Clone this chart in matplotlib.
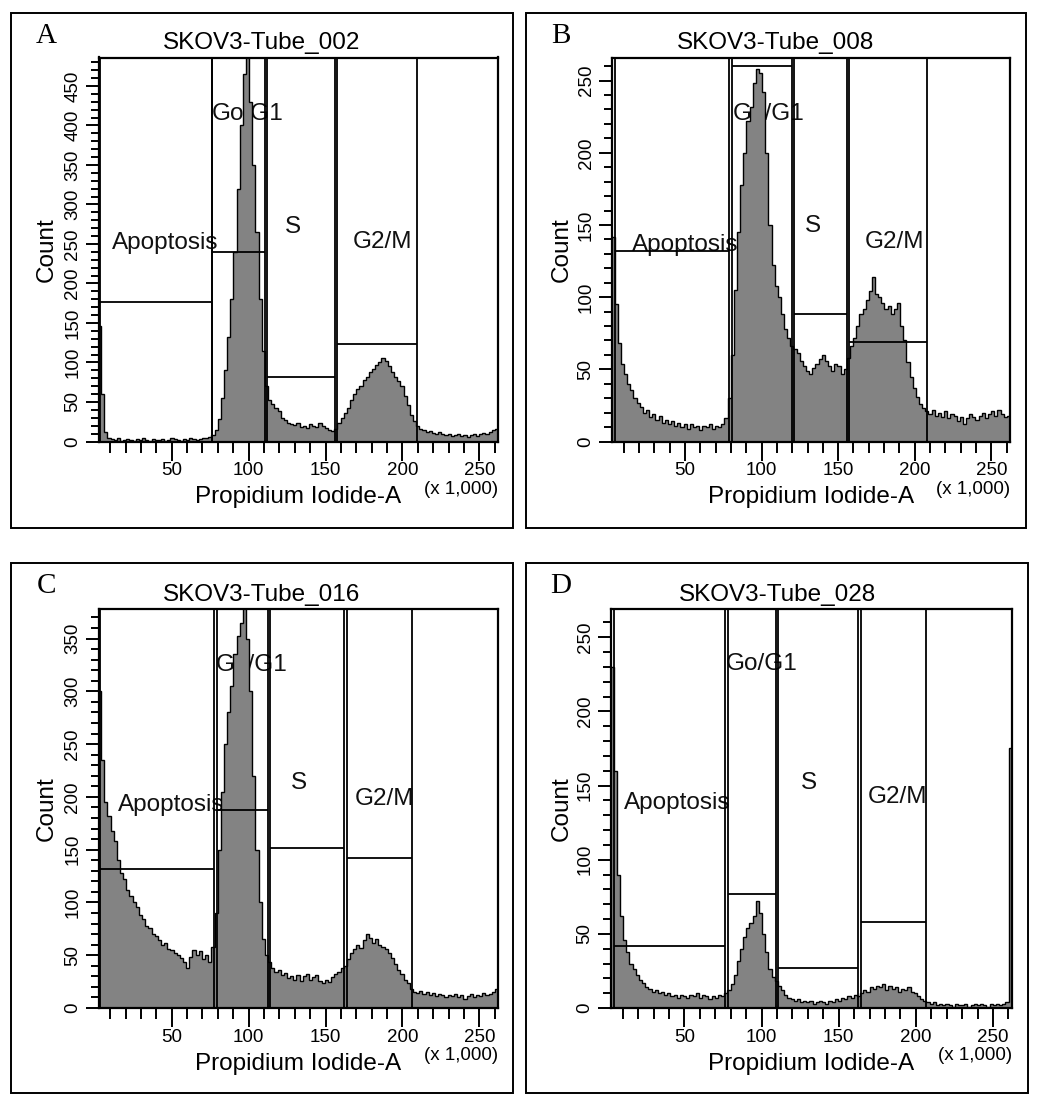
import numpy as np
import matplotlib
matplotlib.use("Agg")
import matplotlib.pyplot as plt
from matplotlib.patches import Rectangle
from matplotlib.ticker import FixedLocator, MultipleLocator

plt.rcParams['font.family'] = ['Liberation Sans', 'DejaVu Sans']

W, H = 1046, 1106
BIN_WIDTH = 2048
X_MAX = 262144

# ---------------- data ----------------
panel_letters = ["A", "B", "C", "D"]
tube_names = ["SKOV3-Tube_002", "SKOV3-Tube_008", "SKOV3-Tube_016", "SKOV3-Tube_028"]
gate_names = ["Apoptosis", "Go/G1", "S", "G2/M"]
y_max = [486, 266, 378, 269]
x_tick_values = [50, 100, 150, 200, 250]          # x 1,000
x_tick_labels = ["50", "100", "150", "200", "250"]

counts_A = [160, 146, 60, 12, 4, 3, 2, 4, 1, 2,
            3, 2, 1, 3, 2, 4, 2, 1, 3, 2,
            2, 3, 1, 2, 4, 3, 2, 1, 3, 2,
            4, 3, 2, 3, 5, 4, 6, 8, 15, 28,
            55, 90, 132, 180, 240, 320, 400, 465, 492, 430,
            350, 265, 180, 115, 70, 52, 47, 42, 38, 30,
            27, 24, 22, 21, 23, 18, 20, 17, 22, 19,
            18, 24, 20, 17, 15, 13, 16, 24, 30, 36,
            43, 52, 60, 66, 70, 78, 82, 88, 92, 97,
            100, 106, 102, 95, 88, 82, 76, 70, 58, 46,
            34, 26, 19, 16, 14, 12, 13, 11, 10, 12,
            9, 8, 10, 7, 8, 9, 7, 8, 6, 8,
            9, 7, 10, 11, 9, 12, 14, 16]

counts_B = [150, 142, 95, 68, 54, 47, 40, 36, 30, 27,
            24, 20, 22, 17, 19, 15, 18, 13, 15, 12,
            14, 11, 13, 10, 12, 9, 12, 10, 11, 8,
            11, 10, 12, 9, 11, 10, 12, 16, 30, 60,
            105, 145, 178, 200, 222, 232, 248, 258, 255, 242,
            200, 150, 122, 108, 100, 88, 78, 72, 66, 64,
            61, 56, 52, 49, 47, 51, 54, 57, 60, 56,
            52, 49, 54, 52, 47, 50, 58, 66, 72, 80,
            88, 92, 98, 104, 114, 102, 100, 96, 92, 94,
            88, 92, 96, 80, 70, 55, 45, 37, 31, 26,
            23, 21, 19, 22, 18, 20, 17, 21, 16, 19,
            18, 14, 17, 12, 16, 19, 17, 15, 18, 20,
            16, 19, 21, 18, 22, 19, 17, 18]

counts_C = [380, 300, 235, 195, 182, 168, 158, 140, 128, 122,
            112, 106, 100, 96, 88, 84, 78, 76, 70, 68,
            64, 60, 62, 56, 55, 52, 50, 47, 44, 38,
            48, 55, 50, 54, 46, 50, 44, 58, 90, 150,
            205, 250, 280, 305, 335, 352, 365, 382, 350, 300,
            220, 150, 100, 65, 50, 44, 38, 34, 36, 31,
            33, 28, 30, 27, 31, 26, 30, 32, 27, 29,
            31, 26, 24, 27, 25, 29, 32, 34, 38, 40,
            46, 52, 56, 60, 57, 64, 70, 66, 62, 65,
            60, 58, 56, 52, 47, 42, 36, 32, 27, 24,
            18, 15, 14, 16, 13, 15, 12, 14, 11, 13,
            12, 10, 12, 11, 13, 10, 12, 9, 11, 13,
            10, 12, 11, 14, 12, 13, 15, 18]

counts_D = [240, 230, 160, 90, 62, 46, 38, 30, 26, 22,
            19, 17, 14, 13, 11, 12, 10, 11, 9, 10,
            8, 9, 7, 9, 8, 7, 9, 8, 10, 7,
            9, 8, 6, 8, 7, 9, 8, 10, 12, 16,
            22, 32, 40, 48, 54, 57, 62, 72, 64, 50,
            38, 26, 21, 18, 15, 12, 9, 7, 6, 5,
            6, 4, 5, 4, 5, 3, 4, 5, 4, 3,
            5, 4, 6, 5, 7, 6, 8, 7, 9, 8,
            10, 12, 11, 14, 13, 15, 14, 16, 12, 15,
            13, 14, 11, 13, 12, 14, 11, 10, 8, 6,
            5, 4, 3, 4, 2, 3, 2, 3, 2, 1,
            3, 2, 2, 3, 1, 2, 3, 2, 3, 2,
            1, 3, 2, 3, 2, 3, 4, 175]

# gates (x in units of 1,000): Apoptosis, Go/G1, S, G2/M
gate_start_A = [3.4, 76.5, 112.0, 157.4]
gate_end_A = [76.0, 110.7, 156.3, 209.4]
gate_level_A = [176, 240, 82, 123]
label_x_A = [11.0, 76.0, 129.0, 168.0]
label_y_A = [251, 415, 272, 253]

gate_start_B = [4.5, 80.5, 121.5, 157.0]
gate_end_B = [79.0, 120.0, 156.0, 208.3]
gate_level_B = [132, 260, 88, 69]
label_x_B = [15.5, 81.0, 133.5, 167.4]
label_y_B = [136, 227, 149, 138]

gate_start_C = [3.5, 79.5, 114.0, 163.7]
gate_end_C = [77.5, 112.5, 162.0, 206.5]
gate_level_C = [132, 188, 152, 142]
label_x_C = [15.3, 78.6, 133.0, 169.0]
label_y_C = [192, 325, 213, 198]

gate_start_D = [4.2, 78.3, 110.6, 164.2]
gate_end_D = [76.0, 109.5, 162.6, 206.8]
gate_level_D = [42, 77, 27, 58]
label_x_D = [11.0, 76.7, 131.0, 169.0]
label_y_D = [138, 232, 152, 142]

# ---------------- layout (pixels) ----------------
panel_boxes = [(11, 13, 513, 528), (526, 13, 1026, 528),
               (11, 563, 513, 1093), (526, 563, 1028, 1093)]
axes_boxes = [(98.5, 57.5, 498, 441.5), (612, 57.5, 1010, 441.5),
              (98.5, 609, 498, 1008), (611, 609, 1011.7, 1008)]

label_ha = ["left", "left", "center", "left"]

all_counts = [counts_A, counts_B, counts_C, counts_D]
all_gstart = [gate_start_A, gate_start_B, gate_start_C, gate_start_D]
all_gend = [gate_end_A, gate_end_B, gate_end_C, gate_end_D]
all_glevel = [gate_level_A, gate_level_B, gate_level_C, gate_level_D]
all_lx = [label_x_A, label_x_B, label_x_C, label_x_D]
all_ly = [label_y_A, label_y_B, label_y_C, label_y_D]

fig = plt.figure(figsize=(W / 100, H / 100), dpi=100)
fig.patch.set_facecolor("white")


def ftext(x, y, s, **kw):
    return fig.text(x / W, 1 - y / H, s, **kw)


edges = np.arange(0, X_MAX + 1, BIN_WIDTH)
FS = 17.5
TS = 13.5

for p in range(4):
    bl, bt, br, bb = panel_boxes[p]
    fig.add_artist(Rectangle((bl / W, 1 - bb / H), (br - bl) / W, (bb - bt) / H,
                             transform=fig.transFigure, fill=False,
                             edgecolor="black", linewidth=1.4))
    al, at, ar, ab = axes_boxes[p]
    ax = fig.add_axes([al / W, 1 - ab / H, (ar - al) / W, (ab - at) / H])
    counts = np.array(all_counts[p], dtype=float)
    ymax = y_max[p]

    ax.stairs(counts, edges, fill=True, facecolor="#838383", edgecolor="none",
              zorder=2)
    ax.stairs(counts, edges, color="black", linewidth=1.0, zorder=2.5)

    for s, e, h in zip(all_gstart[p], all_gend[p], all_glevel[p]):
        ax.vlines([s * 1000, e * 1000], 0, ymax, colors="black",
                  linewidth=1.3, zorder=3)
        ax.hlines(h, s * 1000, e * 1000, colors="black", linewidth=1.3,
                  zorder=3)

    for name, lx, ly, ha in zip(gate_names, all_lx[p], all_ly[p], label_ha):
        ax.text(lx * 1000, ly, name, fontsize=FS, ha=ha, va="center",
                zorder=1, color="#111111")

    ax.set_xlim(2400, X_MAX)
    ax.set_ylim(0, ymax)

    ax.xaxis.set_major_locator(FixedLocator([v * 1000 for v in x_tick_values]))
    ax.set_xticklabels(x_tick_labels)
    ax.xaxis.set_minor_locator(FixedLocator(
        [k * 10000 for k in range(1, 27) if k % 5 != 0]))
    ax.yaxis.set_major_locator(MultipleLocator(50))
    ax.yaxis.set_minor_locator(MultipleLocator(10))

    ax.tick_params(axis="x", which="major", length=13.5, width=1.4,
                   direction="out", labelsize=TS, pad=1.5)
    ax.tick_params(axis="x", which="minor", length=8, width=1.4,
                   direction="out")
    ax.tick_params(axis="y", which="major", length=9.5, width=1.4,
                   direction="out", labelsize=TS, pad=3, labelrotation=90)
    ax.tick_params(axis="y", which="minor", length=6, width=1.4,
                   direction="out")
    for lbl in ax.get_yticklabels():
        lbl.set_va("center")

    for sp in ax.spines.values():
        sp.set_linewidth(1.6)
        sp.set_zorder(4)

    # texts around the plot
    cx = (bl + br) / 2
    ftext(cx, at - 14.5, tube_names[p], fontsize=FS, ha="center", va="center")
    ftext((al + ar) / 2, ab + 56, "Propidium Iodide-A", fontsize=FS,
          ha="center", va="center")
    ftext(ar, ab + 48, "(x 1,000)", fontsize=13.5, ha="right", va="center")
    ftext(bl + 36, (at + ab) / 2, "Count", fontsize=FS, ha="center",
          va="center", rotation=90)
    ftext(bl + 35, bt + 23, panel_letters[p], fontsize=21, ha="center",
          va="center", family=["Liberation Serif", "DejaVu Serif"])

fig.savefig("out.png", dpi=100, facecolor="white")
